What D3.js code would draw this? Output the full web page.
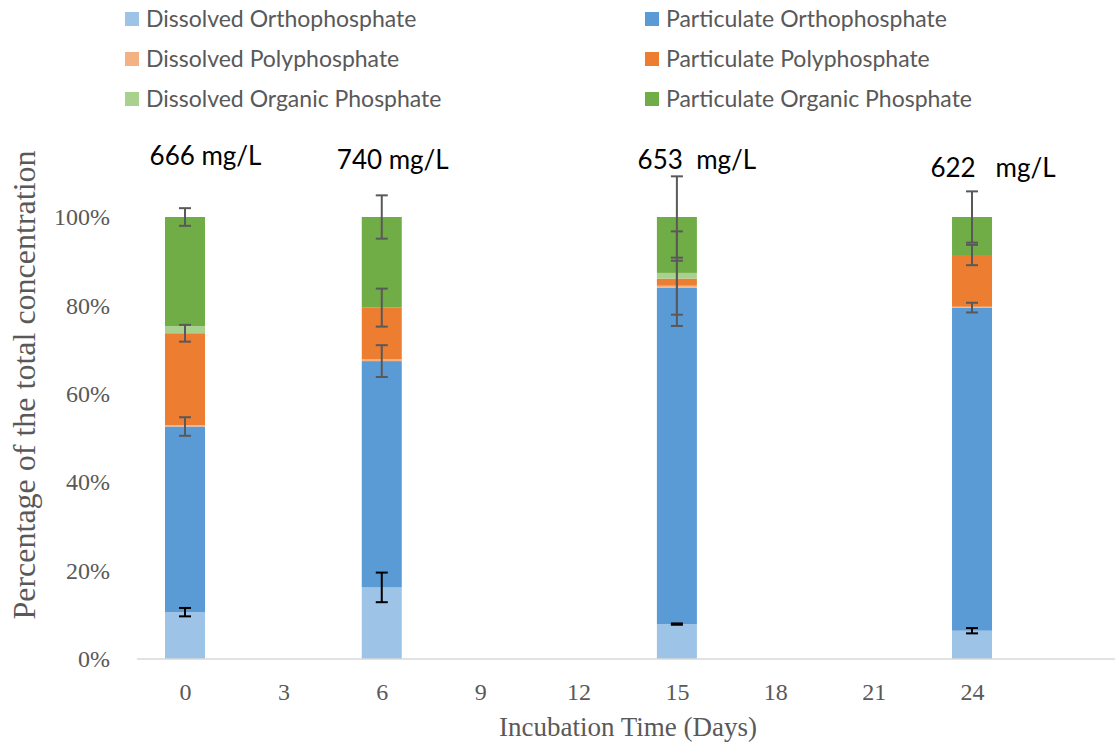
<!DOCTYPE html>
<html>
<head>
<meta charset="utf-8">
<script src="https://cdn.jsdelivr.net/npm/d3@7"></script>
<style>
  body { margin: 0; background: #fff; }
  svg { display: block; }
</style>
</head>
<body>
<svg id="chart" width="1117" height="747"></svg>
<script>
// Incubation days
const days = [0, 6, 15, 24];
const xTicks = [0, 3, 6, 9, 12, 15, 18, 21, 24];
const yTicks = [0, 0.2, 0.4, 0.6, 0.8, 1.0];

// Series names, stacked bottom to top
const seriesNames = [
  "Dissolved Orthophosphate",
  "Particulate Orthophosphate",
  "Dissolved Polyphosphate",
  "Particulate Polyphosphate",
  "Dissolved Organic Phosphate",
  "Particulate Organic Phosphate"
];
const seriesColors = ["#9DC3E6", "#5B9BD5", "#F4B183", "#ED7D31", "#A9D18E", "#70AD47"];

// Share of total P (%) per series, one value per day
const dissolvedOrtho   = [10.6, 16.2, 7.9, 6.4];
const particulateOrtho = [42.0, 51.2, 76.1, 73.1];
const dissolvedPoly    = [0.3, 0.4, 0.45, 0.2];
const particulatePoly  = [20.8, 11.7, 1.6, 11.7];
const dissolvedOrganic = [1.6, 0.0, 1.3, 0.0];
const particulateOrganic = [24.7, 20.5, 12.65, 8.6];

// Error (± %) for each series, one value per day
const errDissolvedOrtho   = [0.95, 3.35, 0.15, 0.6];
const errParticulateOrtho = [2.1, 3.6, 6.1, 1.1];
const errDissolvedPoly    = [0, 0, 0, 0];
const errParticulatePoly  = [1.9, 4.3, 10.7, 2.3];
const errDissolvedOrganic = [0, 0, 0, 0];
const errParticulateOrganic = [2.0, 4.9, 9.2, 5.8];

// Total concentration labels above each column
const totalLabels = ["666\u00A0mg/L", "740\u00A0mg/L", "653\u00A0\u00A0mg/L", "622\u00A0\u00A0\u00A0mg/L"];
const labelOffsetX = [20.5, 11, 20, 21];
const labelY = [165, 169, 169, 177];

const seriesValues = [dissolvedOrtho, particulateOrtho, dissolvedPoly, particulatePoly, dissolvedOrganic, particulateOrganic];
const seriesErrors = [errDissolvedOrtho, errParticulateOrtho, errDissolvedPoly, errParticulatePoly, errDissolvedOrganic, errParticulateOrganic];
const errColors = ["#000000", "#595959", "#595959", "#595959", "#595959", "#595959"];

const rows = days.map((d, i) => {
  const r = { day: d };
  seriesNames.forEach((n, s) => { r[n] = seriesValues[s][i] / 100; });
  return r;
});

const svg = d3.select("#chart");
const serif = "'Liberation Serif', 'Times New Roman', serif";
const sans = "Lato, 'Open Sans', sans-serif";

const x = d3.scaleLinear().domain([-1.464, 28.36]).range([137, 1115]);
const y = d3.scaleLinear().domain([0, 1]).range([659, 217]);
const barW = 40;

const stack = d3.stack().keys(seriesNames);
const layers = stack(rows);

// Stacked columns
svg.append("g")
  .selectAll("g")
  .data(layers)
  .join("g")
  .attr("fill", (d, i) => seriesColors[i])
  .selectAll("rect")
  .data(d => d)
  .join("rect")
  .attr("x", d => x(d.data.day) - barW / 2)
  .attr("width", barW)
  .attr("y", d => y(d[1]))
  .attr("height", d => Math.max(0, y(d[0]) - y(d[1])));

// x axis baseline
svg.append("line")
  .attr("x1", x.range()[0]).attr("x2", x.range()[1])
  .attr("y1", y(0)).attr("y2", y(0))
  .attr("stroke", "#D9D9D9").attr("stroke-width", 1.5);

// Error bars at the top of each stacked segment
const errG = svg.append("g");
layers.forEach((layer, s) => {
  layer.forEach((seg, i) => {
    const e = seriesErrors[s][i] / 100;
    if (!e) return;
    const cx = x(seg.data.day);
    const top = y(seg[1] + e), bot = y(seg[1] - e);
    const g = errG.append("g").attr("stroke", errColors[s]).attr("stroke-width", 2);
    g.append("line").attr("x1", cx).attr("x2", cx).attr("y1", top).attr("y2", bot);
    g.append("line").attr("x1", cx - 6).attr("x2", cx + 6).attr("y1", top).attr("y2", top);
    g.append("line").attr("x1", cx - 6).attr("x2", cx + 6).attr("y1", bot).attr("y2", bot);
  });
});

// y axis tick labels
const yAxis = d3.axisLeft(y).tickValues(yTicks).tickFormat(d3.format(".0%")).tickSize(0).tickPadding(0);
const yG = svg.append("g").attr("transform", "translate(110,0)").call(yAxis);
yG.select(".domain").remove();
yG.selectAll("text")
  .attr("font-family", serif)
  .attr("font-size", 24).attr("fill", "#595959");

// x axis tick labels
const xAxis = d3.axisBottom(x).tickValues(xTicks).tickFormat(d3.format("d")).tickSize(0).tickPadding(0);
const xG = svg.append("g").attr("transform", "translate(0,683)").call(xAxis);
xG.select(".domain").remove();
xG.selectAll("text")
  .attr("font-family", serif)
  .attr("font-size", 24).attr("fill", "#595959");

// Axis titles
svg.append("text")
  .attr("x", 628).attr("y", 736)
  .attr("text-anchor", "middle")
  .attr("font-family", serif)
  .attr("font-size", 27).attr("fill", "#595959")
  .text("Incubation Time (Days)");

svg.append("text")
  .attr("transform", "translate(35,385) rotate(-90)")
  .attr("text-anchor", "middle")
  .attr("font-family", serif)
  .attr("font-size", 32).attr("fill", "#595959")
  .text("Percentage of the total concentration");

// Total concentration labels
svg.append("g")
  .selectAll("text")
  .data(days)
  .join("text")
  .attr("x", (d, i) => x(d) + labelOffsetX[i])
  .attr("y", (d, i) => labelY[i])
  .attr("text-anchor", "middle")
  .attr("font-family", sans)
  .attr("font-size", 26).attr("fill", "#000")
  .text((d, i) => totalLabels[i]);

// Legend: two columns, three rows
const legend = svg.append("g")
  .selectAll("g")
  .data(seriesNames)
  .join("g")
  .attr("transform", (d, i) => `translate(${i % 2 === 0 ? 125 : 645},${12 + Math.floor(i / 2) * 40})`);
legend.append("rect")
  .attr("width", 14).attr("height", 14)
  .attr("fill", (d, i) => seriesColors[i]);
legend.append("text")
  .attr("x", 21).attr("y", 15)
  .attr("font-family", sans)
  .attr("font-size", 23).attr("fill", "#595959")
  .text(d => d);
</script>
</body>
</html>
